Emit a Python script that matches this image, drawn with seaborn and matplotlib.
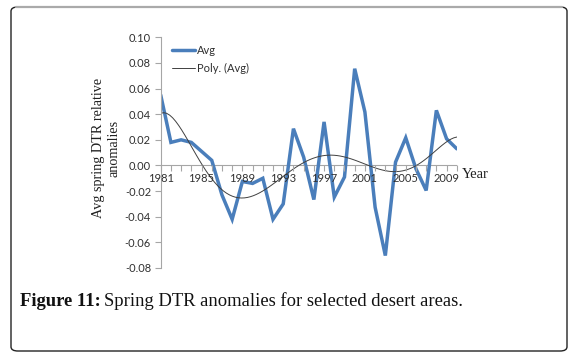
import numpy as np
import pandas as pd
import matplotlib
matplotlib.use("Agg")
import matplotlib.pyplot as plt
import seaborn as sns
from matplotlib.patches import FancyBboxPatch
from matplotlib.lines import Line2D

# ---- data ----
years = list(range(1981, 2011))
avg = [0.055, 0.018, 0.020, 0.018, 0.011, 0.004, -0.023, -0.042, -0.0125, -0.014,
       -0.010, -0.042, -0.030, 0.0287, 0.0065, -0.0266, 0.034, -0.0247, -0.009, 0.0755,
       0.0417, -0.0326, -0.0703, 0.0026, 0.0216, -0.0026, -0.0195, 0.043, 0.0208, 0.013]
year_ticks = [1981, 1985, 1989, 1993, 1997, 2001, 2005, 2009]
y_ticks = [0.10, 0.08, 0.06, 0.04, 0.02, 0.00, -0.02, -0.04, -0.06, -0.08]
poly_order = 6

df = pd.DataFrame({"Year": years, "Avg": avg})
df["pos"] = np.arange(1, len(df) + 1)

sns.set_style("white")
plt.rcParams["font.family"] = ["Lato", "DejaVu Sans"]

W, H = 575, 352
fig = plt.figure(figsize=(W / 100, H / 100), dpi=100)

def fx(px):
    return px / W

def fy(py):
    return 1 - py / H

x0, x1 = 160.7, 456.8
ytop, ybot = 37.3, 268.0
ax = fig.add_axes([fx(x0), fy(ybot), fx(x1) - fx(x0), fy(ytop) - fy(ybot)])

blue = "#4a7ebb"
sns.lineplot(data=df, x="pos", y="Avg", ax=ax, color=blue, lw=2.5,
             solid_joinstyle="miter", legend=False)
sns.regplot(data=df, x="pos", y="Avg", ax=ax, order=poly_order, scatter=False,
            ci=None, line_kws=dict(color="#404040", lw=0.7))

ax.set_xlim(1, len(df))
ax.set_ylim(-0.08, 0.10)
ax.set_xlabel("")
ax.set_ylabel("")

spine_c = "#a6a6a6"
for s in ["top", "right", "bottom"]:
    ax.spines[s].set_visible(False)
ax.spines["left"].set_color(spine_c)
ax.spines["left"].set_linewidth(0.8)
ax.axhline(0, color=spine_c, lw=0.8, zorder=0.5)

ax.set_yticks(y_ticks)
ax.set_yticklabels([f"{v:.2f}" for v in y_ticks])
ax.tick_params(axis="y", direction="out", length=4, width=0.8, color=spine_c,
               labelsize=8, labelcolor="#303030", pad=3, left=True)

ax.set_xticks([])
axx = ax.twiny()
axx.set_xlim(ax.get_xlim())
axx.spines["bottom"].set_position(("data", 0.0))
for s in ["top", "right", "left", "bottom"]:
    axx.spines[s].set_visible(False)
axx.xaxis.set_ticks_position("bottom")
axx.xaxis.set_label_position("bottom")
pos_all = list(df["pos"])
axx.set_xticks(pos_all, minor=True)
tick_pos = [df.loc[df["Year"] == y, "pos"].iloc[0] for y in year_ticks]
axx.set_xticks(tick_pos)
axx.set_xticklabels([str(y) for y in year_ticks])
axx.tick_params(axis="x", which="both", direction="out", length=4, width=0.8,
                color=spine_c, labelsize=8, labelcolor="#303030", pad=1.2)
axx.tick_params(axis="x", which="minor", labelbottom=False)
axx.grid(False)
ax.grid(False)

# legend
handles = [Line2D([0], [0], color=blue, lw=2.5),
           Line2D([0], [0], color="#404040", lw=0.7)]
leg = ax.legend(handles, ["Avg", "Poly. (Avg)"], loc="upper left",
                bbox_to_anchor=((172 - x0) / (x1 - x0), (ybot - 45) / (ybot - ytop)),
                frameon=False, fontsize=8, handlelength=2.1, handletextpad=0.15,
                labelspacing=0.65, borderpad=0, borderaxespad=0)
for t in leg.get_texts():
    t.set_color("#303030")

serif = ["Liberation Serif", "DejaVu Serif"]
fig.text(fx(462), fy(174), "Year", family=serif, fontsize=10.5, va="center",
         ha="left", color="#202020")
fig.text(fx(106.5), fy(148), "Avg spring DTR relative\nanomalies", family=serif,
         fontsize=10.2, rotation=90, va="center", ha="center",
         multialignment="center", linespacing=1.3, color="#202020")

# caption
cap_size = 13.4
t1 = fig.text(fx(20), fy(306), "Figure 11:", family=serif, fontsize=cap_size,
              fontweight="bold", va="baseline", ha="left", color="#111111")
fig.canvas.draw()
bb = t1.get_window_extent()
fig.text((bb.x1 + 3.5) / W, fy(306), "Spring DTR anomalies for selected desert areas.",
         family=serif, fontsize=cap_size, va="baseline", ha="left", color="#111111")

# outer rounded frame
box = FancyBboxPatch((fx(11), fy(351)), fx(567) - fx(11), fy(7) - fy(351),
                     boxstyle="round,pad=0,rounding_size=0.012",
                     transform=fig.transFigure, facecolor="none",
                     edgecolor="#222222", lw=1.0, zorder=10)
fig.add_artist(box)
fig.add_artist(Line2D([fx(16), fx(562)], [fy(7), fy(7)], transform=fig.transFigure,
                      color="#aaaaaa", lw=1.6, zorder=11))

fig.savefig("out.png", dpi=100)
